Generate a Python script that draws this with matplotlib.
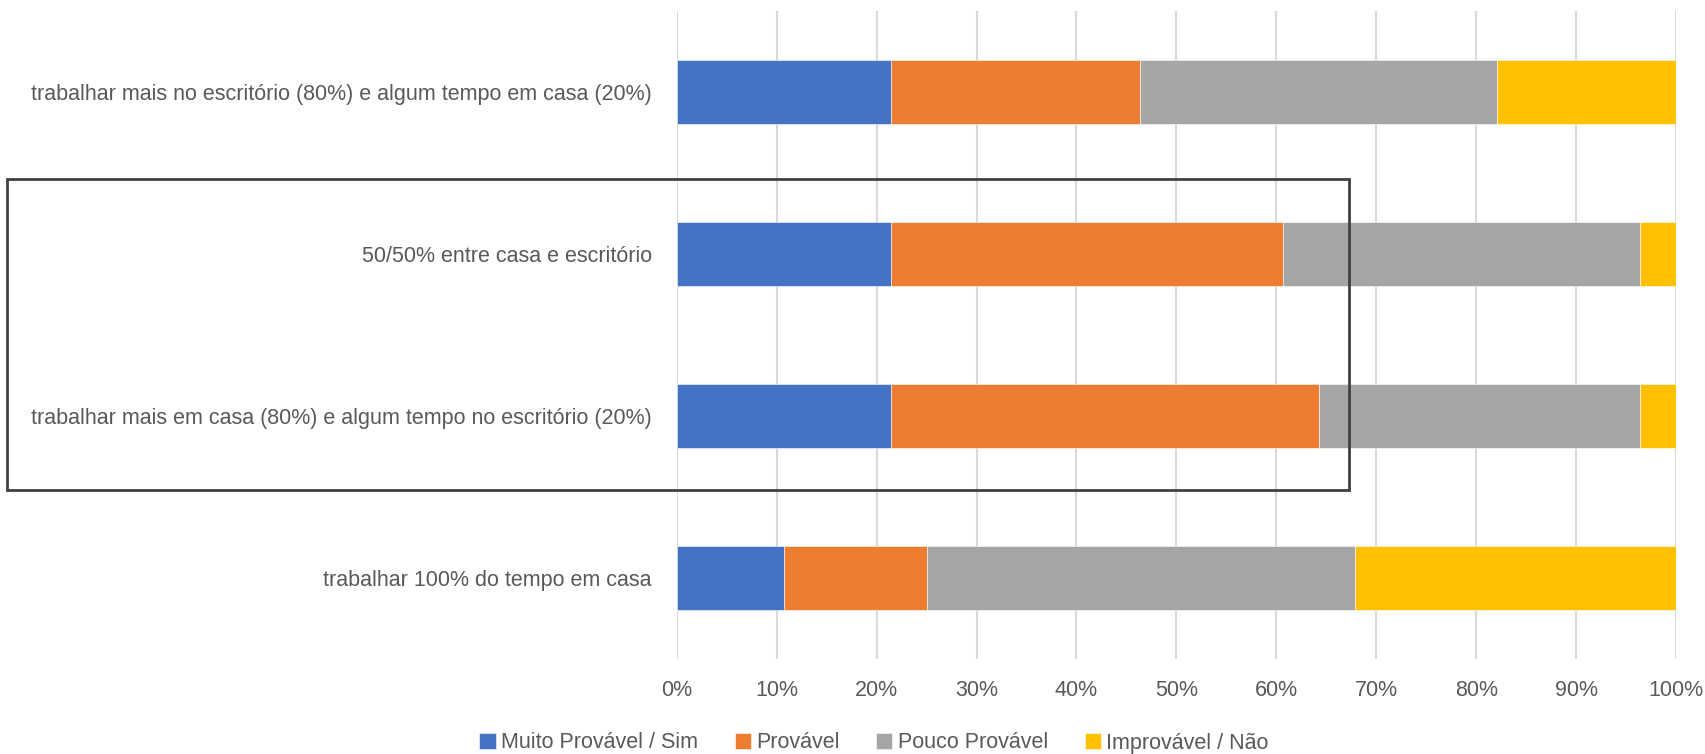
import matplotlib
matplotlib.use("Agg")
import matplotlib.pyplot as plt
from matplotlib.patches import Rectangle
from matplotlib.ticker import FuncFormatter

# survey answers, share of respondents (%) per option
categorias = [
    "trabalhar mais no escritório (80%) e algum tempo em casa (20%)",
    "50/50% entre casa e escritório",
    "trabalhar mais em casa (80%) e algum tempo no escritório (20%)",
    "trabalhar 100% do tempo em casa",
]
muito_provavel = [21.4, 21.4, 21.4, 10.7]
provavel = [25.0, 39.3, 42.9, 14.3]
pouco_provavel = [35.7, 35.7, 32.1, 42.9]
improvavel = [17.9, 3.6, 3.6, 32.1]

series = ["Muito Provável / Sim", "Provável", "Pouco Provável", "Improvável / Não"]
cores = ["#4472C4", "#ED7D31", "#A5A5A5", "#FFC000"]
texto = "#595959"

plt.rcParams["font.family"] = ["Liberation Sans", "DejaVu Sans"]

fig = plt.figure(figsize=(17.06, 7.54), dpi=100)
ax = fig.add_axes([0.3967, 0.126, 0.5857, 0.8594])

y = list(range(len(categorias)))
esquerda = [0.0] * len(categorias)
for nome, vals, cor in zip(series, [muito_provavel, provavel, pouco_provavel, improvavel], cores):
    ax.barh(y, vals, left=esquerda, height=0.4, color=cor, label=nome,
            edgecolor="white", linewidth=0.4, zorder=3)
    esquerda = [a + b for a, b in zip(esquerda, vals)]

ax.set_xlim(0, 100)
ax.set_ylim(len(categorias) - 0.5, -0.5)
ax.set_xticks(range(0, 101, 10))
ax.xaxis.set_major_formatter(FuncFormatter(lambda v, p: f"{v:.0f}%"))
ax.set_yticks(y)
ax.set_yticklabels(categorias)
ax.tick_params(axis="both", length=0, labelsize=15.5, colors=texto)
ax.tick_params(axis="y", pad=18)
ax.tick_params(axis="x", pad=15)
ax.grid(axis="x", color="#D9D9D9", linewidth=1.5, zorder=0)
for s in ax.spines.values():
    s.set_visible(False)

# frame around the two hybrid options
fig.patches.append(Rectangle((7 / 1706, 1 - 490 / 754), (1349 - 7) / 1706, (490 - 179) / 754,
                             transform=fig.transFigure, fill=False,
                             edgecolor="#404040", linewidth=2, zorder=10))

leg = fig.legend(loc="center", bbox_to_anchor=(874 / 1706, 1 - 743 / 754), ncol=4,
                 frameon=False, fontsize=15.5, handlelength=0.75, handleheight=0.75,
                 handletextpad=0.25, columnspacing=1.7)
for t in leg.get_texts():
    t.set_color(texto)

fig.savefig("out.png", dpi=100)
